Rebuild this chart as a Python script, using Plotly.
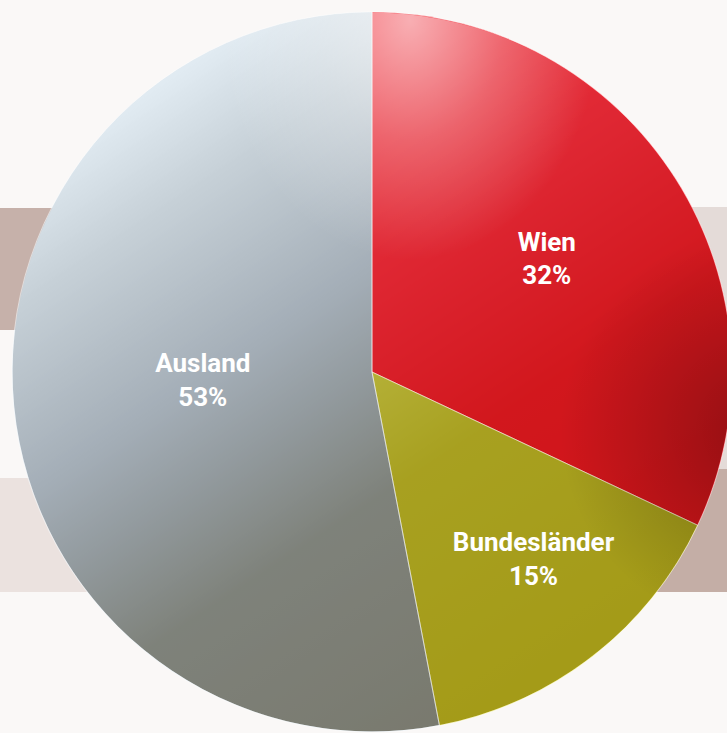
import base64
import math
import plotly.graph_objects as go

# ---- data ----
labels = ["Wien", "Bundesländer", "Ausland"]
values = [32, 15, 53]
slice_colors = ["rgba(244,14,27,0.8)", "rgba(218,214,30,0.65)", "rgba(190,213,228,0.45)"]

# ---- geometry / canvas ----
H = 733                   # visible window is 727 x 733
W = 744                   # paper is a bit wider; the pie is cut at the right edge
BG = "#faf8f7"
left_px, right_px, top_px, bottom_px = 12, 732, 12, 732
dom_x = [left_px / W, right_px / W]
dom_y = [1 - bottom_px / H, 1 - top_px / H]
r = min((dom_x[1] - dom_x[0]) * W, (dom_y[1] - dom_y[0]) * H) / 2
cx = (dom_x[0] + dom_x[1]) / 2 * W
cy = (1 - (dom_y[0] + dom_y[1]) / 2) * H
d = 2 * r

# label layer: same pie, nudged slightly up/right
lab_dx, lab_dy = 10, -9
lab_dom_x = [(left_px + lab_dx) / W, (right_px + lab_dx) / W]
lab_dom_y = [1 - (bottom_px + lab_dy) / H, 1 - (top_px + lab_dy) / H]


def b64svg(s):
    return "data:image/svg+xml;base64," + base64.b64encode(s.encode()).decode()


# shading disc behind the (semi-transparent) pie: light top-left -> dark bottom-right
ux, uy = 0.55, 0.835
n = math.hypot(ux, uy)
ux, uy = ux / n, uy / n
ox, oy = cx - r, cy - r
p0 = (r - r * ux, r - r * uy)
p1 = (r + r * ux, r + r * uy)
shade_svg = (
    f'<svg xmlns="http://www.w3.org/2000/svg" width="{d:.1f}" height="{d:.1f}" '
    f'viewBox="0 0 {d:.3f} {d:.3f}"><defs><linearGradient id="g" gradientUnits="userSpaceOnUse" '
    f'x1="{p0[0]:.1f}" y1="{p0[1]:.1f}" x2="{p1[0]:.1f}" y2="{p1[1]:.1f}">'
    '<stop offset="0" stop-color="rgb(255,255,255)"/>'
    '<stop offset="0.15" stop-color="rgb(205,205,205)"/>'
    '<stop offset="0.38" stop-color="rgb(142,142,146)"/>'
    '<stop offset="0.5" stop-color="rgb(110,106,100)"/>'
    '<stop offset="0.65" stop-color="rgb(74,62,36)"/>'
    '<stop offset="1" stop-color="rgb(64,46,12)"/>'
    f'</linearGradient></defs><circle cx="{r:.3f}" cy="{r:.3f}" r="{r - 0.6:.3f}" fill="url(#g)"/></svg>'
)


def clipped_overlay(left, top, w, h, grad):
    """Overlay image whose content is clipped to the pie disc."""
    ccx, ccy = cx - left, cy - top
    return (
        f'<svg xmlns="http://www.w3.org/2000/svg" width="{w}" height="{h}" viewBox="0 0 {w} {h}" '
        f'preserveAspectRatio="none"><defs>{grad}'
        f'<clipPath id="c"><circle cx="{ccx:.2f}" cy="{ccy:.2f}" r="{r - 0.6:.2f}"/></clipPath></defs>'
        f'<rect width="{w}" height="{h}" fill="url(#q)" clip-path="url(#c)"/></svg>'
    )


# soft white glare at the top of the disc (elliptical)
GW, GH = 380, 480
glare_left, glare_top = 410 - GW / 2, 20 - GH / 2
glare_svg = clipped_overlay(
    glare_left, glare_top, GW, GH,
    '<radialGradient id="q" cx="0.5" cy="0.5" r="0.5">'
    '<stop offset="0" stop-color="#ffffff" stop-opacity="0.6"/>'
    '<stop offset="0.5" stop-color="#ffffff" stop-opacity="0.26"/>'
    '<stop offset="1" stop-color="#ffffff" stop-opacity="0"/></radialGradient>',
)

# soft darkening towards the lower right rim of the red slice
VR = 200
vig_left, vig_top = 760 - VR, 430 - VR
vig_svg = clipped_overlay(
    vig_left, vig_top, 2 * VR, 2 * VR,
    '<radialGradient id="q" cx="0.5" cy="0.5" r="0.5">'
    '<stop offset="0" stop-color="#000000" stop-opacity="0.3"/>'
    '<stop offset="1" stop-color="#000000" stop-opacity="0"/></radialGradient>',
)

fig = go.Figure()
# empty trace so the cartesian subplot (holding the shading disc) exists
fig.add_trace(go.Scatter(x=[], y=[], showlegend=False, hoverinfo="skip"))
fig.add_trace(go.Pie(
    labels=labels,
    values=values,
    sort=False,
    direction="clockwise",
    rotation=0,
    domain=dict(x=dom_x, y=dom_y),
    marker=dict(colors=slice_colors, line=dict(color="rgba(255,255,255,0.5)", width=1)),
    textinfo="none",
    hoverinfo="none",
    showlegend=False,
))
fig.add_trace(go.Pie(
    labels=labels,
    values=values,
    sort=False,
    direction="clockwise",
    rotation=0,
    domain=dict(x=lab_dom_x, y=lab_dom_y),
    marker=dict(colors=["rgba(0,0,0,0)"] * len(values), line=dict(width=0)),
    textposition="inside",
    insidetextorientation="horizontal",
    texttemplate="%{label}<br>%{value}%",
    textfont=dict(family="Roboto, Liberation Sans, sans-serif", size=26,
                  color="white", weight="bold"),
    hoverinfo="none",
    showlegend=False,
))


def band(x0, x1, y0, y1, color):
    return dict(type="rect", xref="paper", yref="paper", layer="below",
                x0=x0, x1=x1, y0=1 - y1 / H, y1=1 - y0 / H,
                fillcolor=color, line=dict(width=0))


def img(src, left, top, w, h, layer):
    return dict(source=src, xref="x", yref="y", x=left, y=H - top, sizex=w, sizey=h,
                xanchor="left", yanchor="top", sizing="stretch", layer=layer)


fig.update_layout(
    width=W, height=H,
    margin=dict(l=0, r=0, t=0, b=0),
    paper_bgcolor=BG, plot_bgcolor=BG,
    xaxis=dict(range=[0, W], visible=False, fixedrange=True),
    yaxis=dict(range=[0, H], visible=False, fixedrange=True),
    shapes=[
        band(0, 0.3, 208, 330, "#c6b1aa"),
        band(0, 0.3, 478, 592, "#ebe2df"),
        band(0.7, 1, 207, 469, "#e4dbd8"),
        band(0.7, 1, 469, 592, "#c4aea6"),
    ],
    images=[
        img(b64svg(shade_svg), ox, oy, d, d, "below"),
        img(b64svg(glare_svg), glare_left, glare_top, GW, GH, "above"),
        img(b64svg(vig_svg), vig_left, vig_top, 2 * VR, 2 * VR, "above"),
    ],
)

fig.write_html(
    "out.html",
    config={"displayModeBar": False},
    post_script=(
        "document.body.style.margin='0';"
        "document.body.style.overflow='hidden';"
        "document.documentElement.style.overflow='hidden';"
    ),
)
